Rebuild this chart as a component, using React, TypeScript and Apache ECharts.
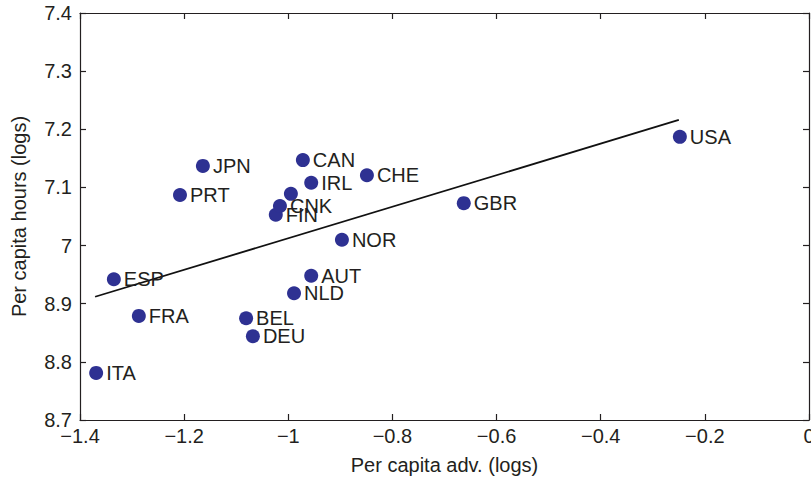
import React, { useEffect, useRef } from "react";
import * as echarts from "echarts";

const countries = ["ITA", "ESP", "FRA", "PRT", "JPN", "BEL", "DEU", "FIN", "CNK", "", "CAN", "IRL", "CHE", "NOR", "AUT", "NLD", "GBR", "USA"];
const advLogs = [-1.369, -1.335, -1.287, -1.208, -1.164, -1.081, -1.068, -1.024, -1.016, -0.995, -0.972, -0.956, -0.849, -0.897, -0.956, -0.989, -0.663, -0.248];
const hoursLogs = [6.781, 6.942, 6.879, 7.087, 7.137, 6.875, 6.844, 7.053, 7.068, 7.089, 7.147, 7.108, 7.121, 7.010, 6.948, 6.918, 7.073, 7.187];
const fitX = [-1.371, -0.25];
const fitY = [6.912, 7.216];
const xTickLabels = ["\u22121.4", "\u22121.2", "\u22121", "\u22120.8", "\u22120.6", "\u22120.4", "\u22120.2", "0"];
const yTickLabels = ["8.7", "8.8", "8.9", "7", "7.1", "7.2", "7.3", "7.4"];

const FONT = "'Liberation Sans', Arial, Helvetica, sans-serif";
const TEXT = "#231f20";

export default function App() {
  const ref = useRef<HTMLDivElement>(null);
  useEffect(() => {
    if (!ref.current) return;
    const chart = echarts.init(ref.current, undefined, { renderer: "svg" });
    const axisCommon = {
      axisLine: { show: true, onZero: false, lineStyle: { color: TEXT, width: 1.2 } },
      axisTick: { show: true, inside: true, length: 6, lineStyle: { color: TEXT, width: 1.2 } },
      splitLine: { show: false },
    };
    chart.setOption({
      animation: false,
      backgroundColor: "#ffffff",
      grid: { left: 80, right: 2, top: 13, bottom: 59, containLabel: false, outerBoundsMode: "none" },
      xAxis: [
        {
          type: "value",
          min: -1.4,
          max: 0,
          interval: 0.2,
          position: "bottom",
          name: "Per capita adv. (logs)",
          nameLocation: "middle",
          nameGap: 35,
          nameTextStyle: { fontFamily: FONT, fontSize: 20, color: TEXT },
          ...axisCommon,
          axisLabel: {
            fontFamily: FONT,
            fontSize: 20,
            color: TEXT,
            margin: 6,
            showMinLabel: true,
            showMaxLabel: true,
            formatter: (v: number) => xTickLabels[Math.round((v + 1.4) / 0.2)] ?? "",
          },
        },
        {
          type: "value",
          min: -1.4,
          max: 0,
          interval: 0.2,
          position: "top",
          ...axisCommon,
          axisLabel: { show: false },
        },
      ],
      yAxis: [
        {
          type: "value",
          min: 6.7,
          max: 7.4,
          interval: 0.1,
          position: "left",
          name: "Per capita hours (logs)",
          nameLocation: "middle",
          nameGap: 51,
          nameTextStyle: { fontFamily: FONT, fontSize: 20, color: TEXT },
          ...axisCommon,
          axisLabel: {
            fontFamily: FONT,
            fontSize: 20,
            color: TEXT,
            margin: 8,
            showMinLabel: true,
            showMaxLabel: true,
            formatter: (v: number) => yTickLabels[Math.round((v - 6.7) / 0.1)] ?? "",
          },
        },
        {
          type: "value",
          min: 6.7,
          max: 7.4,
          interval: 0.1,
          position: "right",
          ...axisCommon,
          axisLabel: { show: false },
        },
      ],
      series: [
        {
          type: "line",
          data: fitX.map((x, i) => [x, fitY[i]]),
          showSymbol: false,
          symbol: "none",
          lineStyle: { color: "#111111", width: 1.8 },
          z: 2,
          silent: true,
        },
        {
          type: "scatter",
          data: advLogs.map((x, i) => ({ value: [x, hoursLogs[i]], name: countries[i] })),
          symbol: "circle",
          symbolSize: 14,
          itemStyle: { color: "#2e3192", opacity: 1 },
          label: {
            show: true,
            position: "right",
            distance: 3,
            formatter: (p: any) => p.name,
            fontFamily: FONT,
            fontSize: 20,
            color: TEXT,
          },
          labelLayout: { hideOverlap: false },
          z: 3,
        },
      ],
    });
    return () => chart.dispose();
  }, []);
  return <div ref={ref} style={{ width: 811, height: 479, position: "absolute", left: 0, top: 0 }} />;
}
